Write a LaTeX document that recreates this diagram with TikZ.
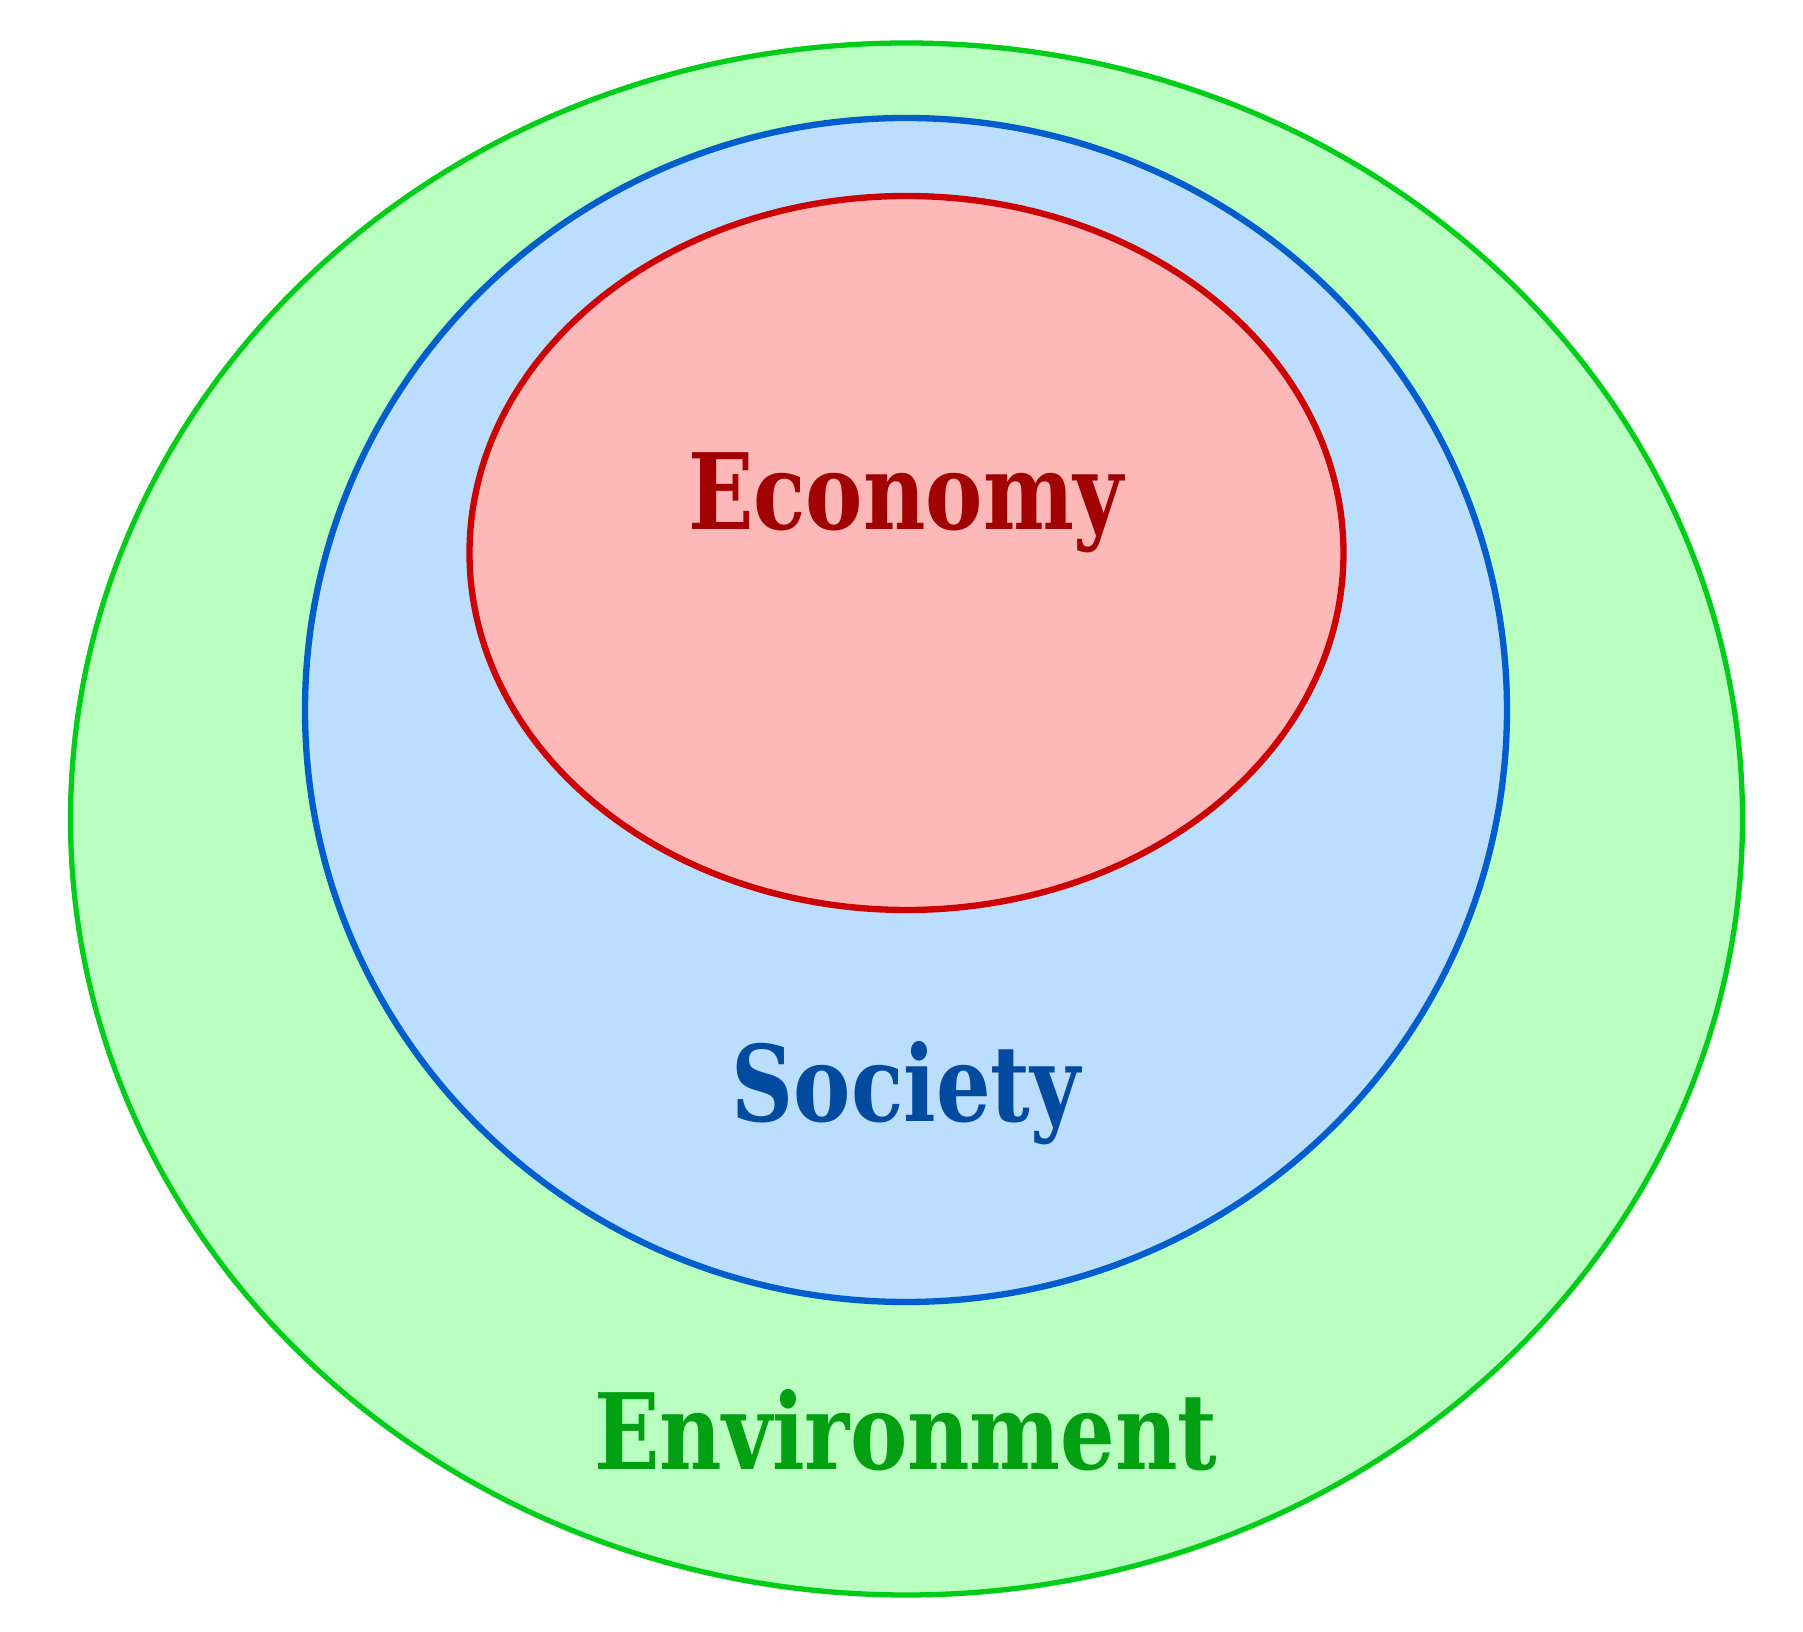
\documentclass[tikz,border=0pt]{standalone}
\usepackage{fontspec}
\newfontfamily\labelfont{DejaVu Serif}
\newcommand{\narrowlabel}[1]{\scalebox{0.815}[1]{#1}}
\definecolor{envfill}{RGB}{184,255,192}
\definecolor{envline}{RGB}{0,204,26}
\definecolor{envtext}{RGB}{0,160,18}
\definecolor{socfill}{RGB}{187,222,255}
\definecolor{socline}{RGB}{0,94,204}
\definecolor{soctext}{RGB}{0,74,160}
\definecolor{ecofill}{RGB}{255,184,184}
\definecolor{ecoline}{RGB}{204,0,0}
\definecolor{ecotext}{RGB}{160,0,0}
\tikzset{
  ring/.style={line width=1.8pt},
  ringlabel/.style={anchor=base, inner sep=0pt, font=\labelfont\bfseries\fontsize{30}{36}\selectfont}
}
\begin{document}
\begin{tikzpicture}
  \useasboundingbox (0,0) rectangle (18.03,-16.32);
  \filldraw[ring, line width=1.5pt, fill=envfill, draw=envline] (9.065,-8.19) ellipse (8.36 and 7.76);
  \filldraw[ring, fill=socfill, draw=socline] (9.06,-7.10) ellipse (6.01 and 5.92);
  \filldraw[ring, fill=ecofill, draw=ecoline] (9.065,-5.53) ellipse (4.37 and 3.57);
  \node[ringlabel, text=ecotext] (economy) at (9.06,-5.30) {\narrowlabel{Economy}};
  \node[ringlabel, text=soctext] (society) at (9.06,-11.22) {\narrowlabel{Society}};
  \node[ringlabel, text=envtext] (environment) at (9.06,-14.70) {\narrowlabel{Environment}};
\end{tikzpicture}
\end{document}
